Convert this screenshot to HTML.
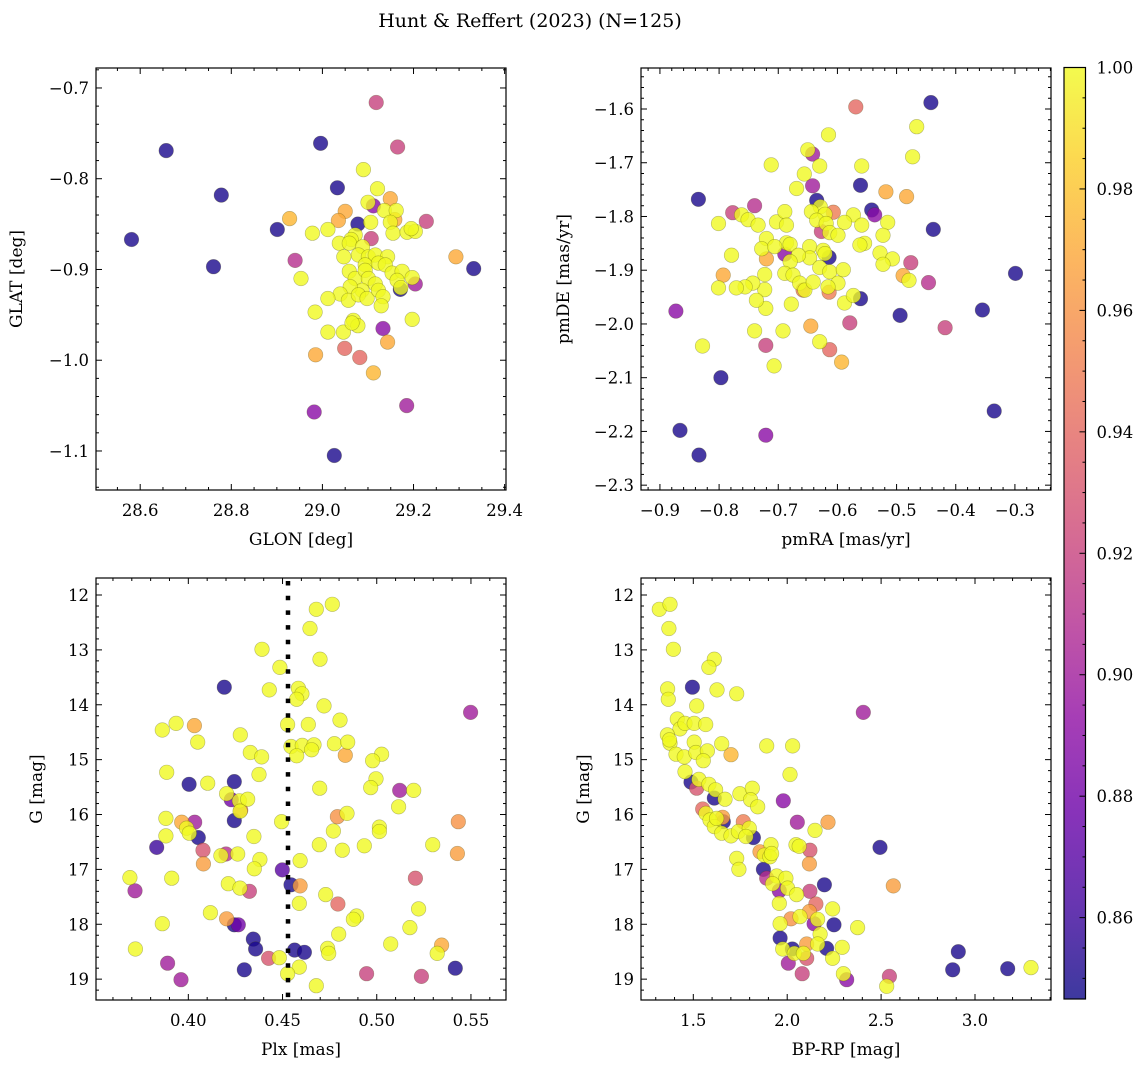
<!DOCTYPE html>
<html><head><meta charset="utf-8"><style>
html,body{margin:0;padding:0;background:#fff;}
svg{display:block;font-family:"DejaVu Serif","Liberation Serif",serif;}
</style></head><body>
<svg id="fig" width="1148" height="1067" viewBox="0 0 1148 1067" xmlns="http://www.w3.org/2000/svg">
<rect width="1148" height="1067" fill="#fff"/>
<text x="530" y="27" font-size="19" text-anchor="middle">Hunt &amp; Reffert (2023) (N=125)</text>
</svg>
<script>
// ---------- Panel 1: GLON vs GLAT ----------
const p1Glon=[29.118,28.657,28.996,29.165,28.778,28.581,28.761,28.901,28.928,28.94,29.332,29.293,29.228,29.033,29.09,29.121,29.149,28.953,28.984,29.012,29.046,29.133,29.143,29.197,28.985,29.049,29.082,29.112,28.982,29.185,29.026,29.204,29.171,29.078,29.107,29.112,29.05,29.035,29.159,
29.1,29.136,29.162,29.106,29.149,29.155,29.186,29.204,29.195,29.012,28.978,29.072,29.063,29.037,29.059,29.088,29.079,29.047,29.101,29.116,29.143,29.094,29.123,29.138,29.153,29.175,29.197,29.164,29.059,29.072,29.094,29.101,29.116,29.087,29.061,29.039,29.057,29.079,29.098,29.123,29.133,29.129,29.012,29.068,29.078,29.065,29.172];
const p1Glat=[-0.716,-0.769,-0.761,-0.765,-0.818,-0.867,-0.897,-0.856,-0.844,-0.89,-0.899,-0.886,-0.847,-0.81,-0.79,-0.811,-0.822,-0.91,-0.947,-0.969,-0.969,-0.965,-0.98,-0.955,-0.994,-0.987,-0.997,-1.014,-1.057,-1.05,-1.105,-0.916,-0.922,-0.85,-0.866,-0.83,-0.836,-0.846,-0.845,
-0.826,-0.835,-0.835,-0.848,-0.848,-0.86,-0.859,-0.858,-0.855,-0.856,-0.86,-0.862,-0.867,-0.871,-0.871,-0.875,-0.884,-0.886,-0.886,-0.884,-0.886,-0.895,-0.893,-0.895,-0.904,-0.902,-0.909,-0.912,-0.902,-0.91,-0.901,-0.91,-0.916,-0.923,-0.919,-0.927,-0.934,-0.928,-0.932,-0.923,-0.93,-0.94,-0.932,-0.956,-0.962,-0.959,-0.92];
const p1Prob=[0.92,0.85,0.85,0.92,0.85,0.85,0.85,0.85,0.975,0.91,0.85,0.97,0.92,0.85,1,1,0.97,1,1,1,1,0.89,0.97,1,0.97,0.94,0.94,0.975,0.89,0.9,0.85,0.9,0.85,0.85,0.92,0.89,0.97,0.97,0.97,
1,1,1,1,1,1,1,1,1,1,1,1,1,1,1,1,1,1,1,1,1,1,1,1,1,1,1,1,1,1,1,1,1,1,1,1,1,1,1,1,1,1,1,1,1,1,1];

// ---------- Panel 2: pmRA vs pmDE ----------
const p2PmRA=[-0.569,-0.442,-0.466,-0.615,-0.473,-0.65,-0.642,-0.63,-0.712,-0.656,-0.669,-0.642,-0.559,-0.561,-0.518,-0.483,-0.635,-0.835,-0.74,-0.777,-0.801,-0.607,-0.542,-0.537,-0.438,-0.627,-0.689,-0.614,-0.72,-0.793,-0.658,-0.614,-0.489,-0.476,-0.446,-0.299,-0.561,-0.494,-0.355,-0.873,-0.579,-0.645,-0.418,-0.828,-0.721,-0.613,-0.593,-0.707,-0.797,-0.335,-0.866,-0.721,-0.834,
-0.762,-0.751,-0.734,-0.72,-0.703,-0.689,-0.686,-0.629,-0.644,-0.621,-0.635,-0.619,-0.573,-0.559,-0.588,-0.613,-0.599,-0.515,-0.523,-0.554,-0.562,-0.528,-0.507,-0.523,-0.686,-0.68,-0.728,-0.706,-0.647,-0.624,-0.621,-0.647,-0.666,-0.68,-0.689,-0.675,-0.664,-0.655,-0.641,-0.63,-0.613,-0.599,-0.616,-0.59,-0.588,-0.573,-0.678,-0.723,-0.723,-0.721,-0.737,-0.743,-0.756,-0.771,-0.779,-0.801,-0.74,-0.692,-0.63,-0.479];
const p2PmDE=[-1.596,-1.588,-1.633,-1.648,-1.689,-1.676,-1.684,-1.706,-1.704,-1.721,-1.748,-1.743,-1.706,-1.742,-1.754,-1.763,-1.77,-1.768,-1.78,-1.793,-1.813,-1.792,-1.788,-1.797,-1.824,-1.828,-1.87,-1.876,-1.879,-1.909,-1.937,-1.941,-1.91,-1.886,-1.923,-1.906,-1.953,-1.984,-1.974,-1.976,-1.998,-2.004,-2.007,-2.041,-2.04,-2.048,-2.071,-2.078,-2.1,-2.162,-2.198,-2.207,-2.244,
-1.797,-1.806,-1.816,-1.841,-1.81,-1.791,-1.816,-1.782,-1.791,-1.796,-1.807,-1.813,-1.797,-1.816,-1.811,-1.83,-1.835,-1.811,-1.835,-1.85,-1.853,-1.868,-1.879,-1.889,-1.849,-1.852,-1.86,-1.856,-1.856,-1.863,-1.869,-1.877,-1.872,-1.884,-1.906,-1.909,-1.924,-1.937,-1.922,-1.895,-1.903,-1.924,-1.931,-1.899,-1.961,-1.947,-1.963,-1.908,-1.936,-1.971,-1.956,-1.924,-1.931,-1.933,-1.872,-1.933,-2.013,-2.013,-2.033,-1.919];
const p2Prob=[0.94,0.85,1,1,1,1,0.9,1,1,1,1,0.9,1,0.85,0.97,0.97,0.85,0.85,0.91,0.92,1,0.95,0.85,0.89,0.85,0.92,0.89,0.85,0.97,0.97,0.95,0.95,0.97,0.92,0.91,0.85,0.85,0.85,0.85,0.89,0.92,0.97,0.92,1,0.92,0.94,0.975,1,0.85,0.85,0.85,0.89,0.85,
1,1,1,1,1,1,1,1,1,1,1,1,1,1,1,1,1,1,1,1,1,1,1,1,1,1,1,1,1,1,1,1,1,1,1,1,1,1,1,1,1,1,1,1,1,1,1,1,1,1,1,1,1,1,1,1,1,1,1,1,1,1,1,1];

// ---------- Panel 3: Plx vs G ----------
const p3Plx=[0.4764,0.4679,0.4646,0.4391,0.4699,0.4486,0.4191,0.443,0.4584,0.4603,0.4575,0.472,0.5498,0.4805,0.3935,0.3862,0.4032,0.4527,0.4637,0.4276,0.405,0.4545,0.4605,0.4667,0.4654,0.4775,0.4846,0.4575,0.4833,0.4329,0.4389,0.5026,0.4978,0.3885,0.4375,0.4004,0.4103,0.4244,0.4996,0.4968,0.4697,0.5122,0.5196,0.4203,0.4228,0.4271,0.4315,0.4278,0.4275,0.5116,0.3881,0.4244,0.3965,0.4034,0.3991,0.4005,0.4495,0.4791,0.4842,0.477,0.5014,0.5014,0.5433,0.3881,0.4053,0.4348,0.3832,0.4078,0.42,0.4173,0.4262,0.4695,0.4817,0.4934,0.5297,0.5428,0.4593,0.438,0.408,0.435,0.4499,0.369,0.3912,0.5205,0.3717,0.4212,0.4274,0.4324,0.4545,0.4593,0.4729,0.4589,0.4794,0.5222,0.4117,0.4203,0.4244,0.4265,0.3862,0.4893,0.4876,0.5176,0.4798,0.4345,0.4357,0.3719,0.4564,0.4616,0.4739,0.4745,0.5074,0.5344,0.5321,0.4426,0.4483,0.389,0.4589,0.4527,0.4297,0.4946,0.5237,0.5417,0.3961,0.4679];
const p3G=[12.17,12.26,12.61,12.99,13.17,13.32,13.68,13.73,13.70,13.80,13.90,14.02,14.14,14.28,14.34,14.46,14.38,14.36,14.36,14.55,14.68,14.76,14.74,14.73,14.82,14.71,14.68,14.93,14.92,14.87,14.95,14.90,15.02,15.23,15.27,15.45,15.43,15.40,15.35,15.51,15.52,15.56,15.56,15.62,15.73,15.75,15.72,15.92,15.94,15.86,16.07,16.11,16.14,16.14,16.25,16.34,16.13,16.04,15.98,16.30,16.23,16.31,16.13,16.39,16.42,16.40,16.60,16.65,16.72,16.75,16.72,16.55,16.65,16.57,16.55,16.71,16.84,16.82,16.90,16.99,17.01,17.15,17.16,17.16,17.39,17.26,17.34,17.40,17.28,17.30,17.46,17.62,17.63,17.72,17.79,17.90,18.01,18.01,17.99,17.85,17.91,18.06,18.18,18.27,18.45,18.45,18.47,18.51,18.44,18.53,18.36,18.38,18.53,18.62,18.61,18.71,18.78,18.90,18.83,18.90,18.95,18.80,19.01,19.12];
const p3Prob=[1,1,1,1,1,1,0.85,1,1,1,1,1,0.9,1,1,1,0.97,1,1,1,1,1,1,1,1,1,1,1,0.97,1,1,1,1,1,1,0.85,1,0.85,1,1,1,0.9,1,1,0.88,1,1,0.94,1,1,1,0.85,0.97,0.9,1,1,1,0.96,1,1,1,1,0.96,1,0.85,1,0.86,0.93,0.91,1,1,1,1,1,1,0.965,1,1,0.965,1,0.87,1,1,0.93,0.9,1,1,0.92,0.85,0.965,1,1,0.94,1,1,0.965,0.85,0.88,1,1,1,1,1,0.85,0.85,1,0.85,0.85,1,1,1,0.97,1,0.93,1,0.9,1,1,0.85,0.92,0.92,0.85,0.9,1];

// ---------- Panel 4: BP-RP vs G ----------
const p4BpRp=[1.319,1.376,1.37,1.394,1.612,1.583,1.495,1.626,1.731,1.363,1.367,1.518,2.405,1.415,1.429,1.456,1.505,1.566,1.362,1.376,1.373,1.505,1.651,1.891,2.029,1.408,1.452,1.514,1.575,1.553,1.701,1.456,2.015,1.488,1.53,1.518,1.583,1.619,1.669,1.612,1.748,1.814,1.805,1.843,1.979,1.55,1.567,1.589,1.612,1.624,1.656,1.66,1.651,1.701,1.74,1.798,1.78,1.766,1.82,2.054,2.217,2.148,1.914,2.047,2.064,2.121,2.494,1.855,1.878,1.908,1.917,1.731,1.743,2.118,1.873,1.891,1.944,1.993,1.922,2.002,2.05,1.958,2.121,2.198,2.565,2.153,1.958,2.242,2.118,2.02,2.068,1.962,2.143,2.162,2.249,2.375,2.175,1.962,1.976,2.038,2.086,2.162,2.293,2.242,2.027,2.21,2.104,2.104,2.006,2.08,2.299,2.317,2.544,2.53,2.911,2.881,3.174,3.298];
const p4G=[12.26,12.17,12.61,12.99,13.17,13.32,13.68,13.73,13.80,13.71,13.90,14.02,14.14,14.26,14.44,14.34,14.34,14.36,14.55,14.70,14.64,14.68,14.71,14.75,14.75,14.90,14.95,14.87,14.84,15.02,14.91,15.22,15.27,15.41,15.36,15.52,15.45,15.55,15.72,15.70,15.62,15.52,15.73,15.86,15.75,15.90,15.98,16.10,16.22,16.07,16.05,16.13,16.34,16.39,16.31,16.25,16.40,16.13,16.42,16.14,16.14,16.29,16.55,16.55,16.58,16.65,16.60,16.68,16.74,16.77,16.71,16.80,17.00,16.90,17.00,17.16,17.12,17.16,17.26,17.34,17.46,17.39,17.40,17.28,17.30,17.63,17.62,17.72,17.77,17.90,17.86,17.99,17.99,17.91,18.01,18.06,18.18,18.25,18.45,18.53,18.53,18.36,18.42,18.62,18.45,18.44,18.36,18.62,18.71,18.90,18.90,19.01,18.95,19.13,18.50,18.83,18.81,18.79];
const p4Prob=[1,1,1,1,1,1,0.85,1,1,1,1,1,0.9,1,1,1,1,1,1,1,1,1,1,1,1,1,1,1,1,1,0.975,1,1,0.85,1,0.93,1,1,1,0.85,1,1,1,1,0.89,0.94,1,1,1,1,0.965,0.85,1,1,1,1,1,0.95,0.85,0.9,0.965,1,1,1,1,0.93,0.85,0.965,1,1,1,1,1,0.965,0.85,0.91,1,1,1,1,1,0.89,0.92,0.85,0.965,0.94,1,1,0.965,0.96,1,1,0.89,1,0.85,1,1,0.85,1,1,1,1,1,1,0.85,0.85,0.965,0.93,0.9,0.92,1,0.89,0.92,1,0.85,0.85,0.85,1];

// ---------- Colour scale ----------
const cbTicks=[0.86,0.88,0.90,0.92,0.94,0.96,0.98,1.00];
const VMIN=0.8466, VMAX=1.0;
const plasmaStops=["#0d0887","#41049d","#6a00a8","#8f0da4","#b12a90","#cc4778","#e16462","#f2844b","#fca636","#fcce25","#f0f921"];
function hex2rgb(h){return [parseInt(h.substr(1,2),16),parseInt(h.substr(3,2),16),parseInt(h.substr(5,2),16)];}
function plasma(t){t=Math.max(0,Math.min(1,t));const f=t*10,i=Math.min(9,Math.floor(f)),r=f-i;
 const a=hex2rgb(plasmaStops[i]),b=hex2rgb(plasmaStops[i+1]);
 return "rgb("+a.map((v,k)=>Math.round(v+(b[k]-v)*r)).join(",")+")";}
function colorOf(p){return plasma((p-VMIN)/(VMAX-VMIN));}

const NS="http://www.w3.org/2000/svg";
const svg=document.getElementById('fig');
function mk(tag,attrs,parent){const e=document.createElementNS(NS,tag);for(const k in attrs)e.setAttribute(k,attrs[k]);(parent||svg).appendChild(e);return e;}
function fmtNum(v,d){const s=Math.abs(v).toFixed(d);return (v<-1e-9?"\u2212":"")+s;}

function panel(c){
 const g=mk('g',{});
 
 
 const sx=v=>c.box[0]+(v-c.xlim[0])/(c.xlim[1]-c.xlim[0])*(c.box[2]-c.box[0]);
 const sy=v=>c.box[3]-(v-c.ylim[0])/(c.ylim[1]-c.ylim[0])*(c.box[3]-c.box[1]);
 const [L,T,R,B]=c.box;
 const idx=c.xs.map((_,i)=>i).sort((a,b)=>c.ps[a]-c.ps[b]);
 const pg=mk('g',{},g);
 
 
 idx.forEach(i=>{
  const cx=sx(c.xs[i]),cy=sy(c.ys[i]);
  if(cx<L||cx>R||cy<T||cy>B)return;
  const e=mk('circle',{cx:cx.toFixed(1),cy:cy.toFixed(1),r:7.3,fill:colorOf(c.ps[i]),'fill-opacity':0.8,stroke:'rgba(60,60,0,0.35)','stroke-width':0.6},pg);
  
  
 });
 if(c.vline!==undefined){
  const e=mk('line',{x1:sx(c.vline),x2:sx(c.vline),y1:T+2,y2:B,stroke:'#000','stroke-width':4.5,'stroke-dasharray':'4.5 10.2'},g);
  
  
 }
 const tg=mk('g',{stroke:'#000','stroke-width':1},g);
 
 
 function ticksFor(lim,step){const lo=Math.min(lim[0],lim[1]),hi=Math.max(lim[0],lim[1]);const out=[];for(let k=Math.ceil(lo/step-1e-6);k<=Math.floor(hi/step+1e-6);k++)out.push(k*step);return out;}
 const isMajor=(v,arr)=>arr.some(m=>Math.abs(m-v)<1e-6);
 ticksFor(c.xlim,c.xminor).forEach(v=>{if(isMajor(v,c.xticks))return;const x=sx(v);mk('line',{x1:x,x2:x,y1:B,y2:B-3},tg);mk('line',{x1:x,x2:x,y1:T,y2:T+3},tg);});
 ticksFor(c.ylim,c.yminor).forEach(v=>{if(isMajor(v,c.yticks))return;const y=sy(v);mk('line',{x1:L,x2:L+3,y1:y,y2:y},tg);mk('line',{x1:R,x2:R-3,y1:y,y2:y},tg);});
 c.xticks.forEach(v=>{const x=sx(v);mk('line',{x1:x,x2:x,y1:B,y2:B-6},tg);mk('line',{x1:x,x2:x,y1:T,y2:T+6},tg);
  const t=mk('text',{x:x,y:B+26,'font-size':16.5,'text-anchor':'middle',stroke:'none'},g);t.textContent=fmtNum(v,c.xd);
  });
 c.yticks.forEach(v=>{const y=sy(v);mk('line',{x1:L,x2:L+6,y1:y,y2:y},tg);mk('line',{x1:R,x2:R-6,y1:y,y2:y},tg);
  const t=mk('text',{x:L-7,y:y+6,'font-size':16.5,'text-anchor':'end',stroke:'none'},g);t.textContent=fmtNum(v,c.yd);
  });
 const fr=mk('rect',{x:L,y:T,width:R-L,height:B-T,fill:'none',stroke:'#000','stroke-width':1.2},g);
 
 const xl=mk('text',{x:(L+R)/2,y:B+55,'font-size':17,'text-anchor':'middle'},g);xl.textContent=c.xlabel;
 
 const ycx=c.ylabelX, ycy=(T+B)/2;
 const yl=mk('text',{x:ycx,y:ycy,'font-size':17,'text-anchor':'middle',transform:`rotate(-90 ${ycx} ${ycy})`},g);yl.textContent=c.ylabel;
 
}

panel({name:'glon-glat-panel',box:[96,68,506,490],xlim:[28.503,29.403],ylim:[-1.143,-0.678],
 xticks:[28.6,28.8,29.0,29.2,29.4],xminor:0.05,yticks:[-1.1,-1.0,-0.9,-0.8,-0.7],yminor:0.02,xd:1,yd:1,
 xs:p1Glon,ys:p1Glat,ps:p1Prob,xlabel:'GLON [deg]',ylabel:'GLAT [deg]',ylabelX:22});
panel({name:'proper-motion-panel',box:[641,68,1051,490],xlim:[-0.932,-0.239],ylim:[-2.309,-1.5237],
 xticks:[-0.9,-0.8,-0.7,-0.6,-0.5,-0.4,-0.3],xminor:0.02,yticks:[-2.3,-2.2,-2.1,-2.0,-1.9,-1.8,-1.7,-1.6],yminor:0.02,xd:1,yd:1,
 xs:p2PmRA,ys:p2PmDE,ps:p2Prob,xlabel:'pmRA [mas/yr]',ylabel:'pmDE [mas/yr]',ylabelX:569});
panel({name:'parallax-magnitude-panel',box:[96,578,506,1000],xlim:[0.351,0.5686],ylim:[19.38,11.69],
 xticks:[0.40,0.45,0.50,0.55],xminor:0.01,yticks:[12,13,14,15,16,17,18,19],yminor:0.2,xd:2,yd:0,
 xs:p3Plx,ys:p3G,ps:p3Prob,xlabel:'Plx [mas]',ylabel:'G [mag]',ylabelX:42});
panel({name:'color-magnitude-panel',box:[641,578,1051,1000],xlim:[1.2215,3.4047],ylim:[19.38,11.69],
 xticks:[1.5,2.0,2.5,3.0],xminor:0.1,yticks:[12,13,14,15,16,17,18,19],yminor:0.2,xd:1,yd:0,
 xs:p4BpRp,ys:p4G,ps:p4Prob,xlabel:'BP-RP [mag]',ylabel:'G [mag]',ylabelX:589});

// vertical reference line for panel 3 (drawn over points)
(function(){
 const L=96,R=506,T=578,B=1000,xlim=[0.351,0.5686];
 const plxRef=0.4529;
 const x=L+(plxRef-xlim[0])/(xlim[1]-xlim[0])*(R-L);
 const e=mk('line',{x1:x,x2:x,y1:T+3,y2:B,stroke:'#000','stroke-width':4.5,'stroke-dasharray':'4.5 10.2'});
 
 
})();

// ---------- Colorbar ----------
(function(){
 const L=1064,R=1085.5,T=67.5,B=999;
 const defs=mk('defs',{});
 const lg=mk('linearGradient',{id:'cbgrad',x1:0,y1:1,x2:0,y2:0},defs);
 for(let i=0;i<=20;i++){mk('stop',{offset:i/20,'stop-color':plasma(i/20),'stop-opacity':0.8},lg);}
 const g=mk('g',{});
 
 
 mk('rect',{x:L,y:T,width:R-L,height:B-T,fill:'url(#cbgrad)'},g);
 const sy=v=>B-(v-VMIN)/(VMAX-VMIN)*(B-T);
 for(let k=Math.ceil(VMIN/0.005);k<=Math.floor(VMAX/0.005+1e-6);k++){const v=k*0.005;const y=sy(v);
  const maj=cbTicks.some(m=>Math.abs(m-v)<1e-6);mk('line',{x1:R,x2:R-(maj?6:3),y1:y,y2:y,stroke:'#000','stroke-width':1},g);}
 cbTicks.forEach(v=>{const t=mk('text',{x:R+11,y:sy(v)+6,'font-size':16.5},g);t.textContent=v.toFixed(2);
  });
 mk('rect',{x:L,y:T,width:R-L,height:B-T,fill:'none',stroke:'#000','stroke-width':1.2},g);
})();
</script>
</body></html>
